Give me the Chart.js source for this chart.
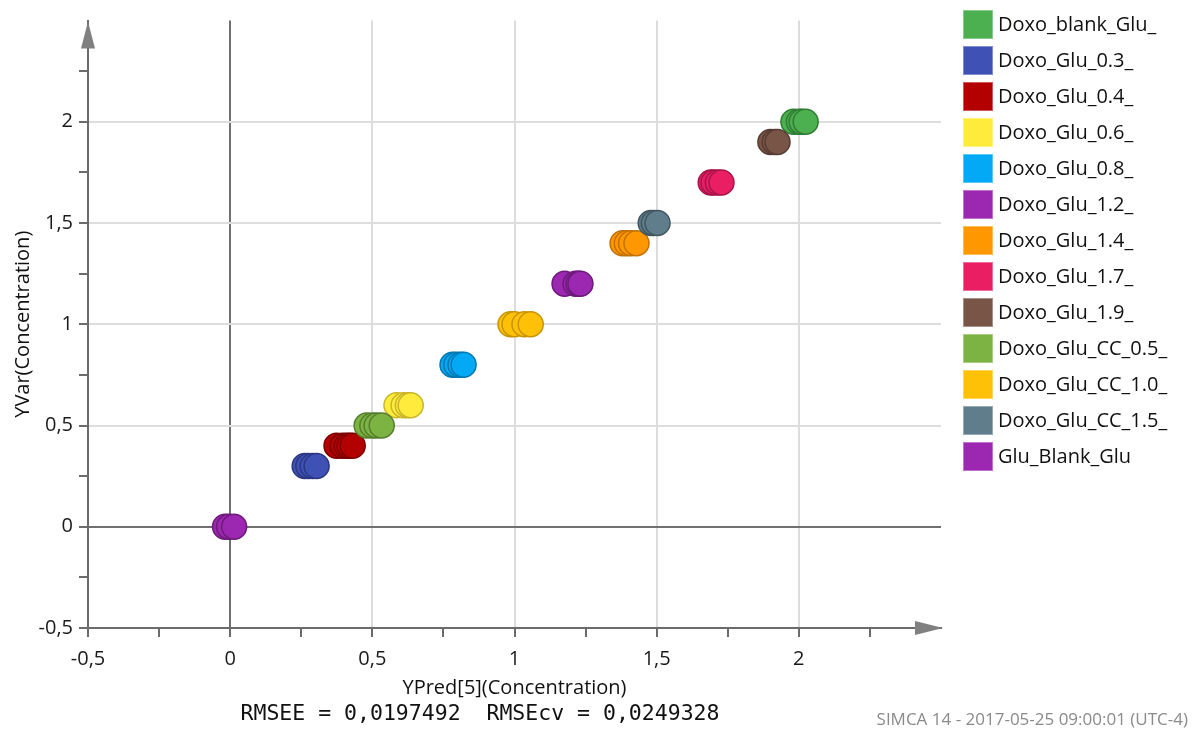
<!DOCTYPE html>
<html>
<head>
<meta charset="utf-8">
<script src="https://cdn.jsdelivr.net/npm/chart.js@4.4.0/dist/chart.umd.min.js"></script>
<style>
  html, body { margin: 0; padding: 0; background: #fff; }
  #wrap { width: 1194px; height: 738px; position: relative; }
</style>
</head>
<body>
<div id="wrap"><canvas id="chart" width="1194" height="738"></canvas></div>
<script>
// series names (legend order)
const seriesNames = [
  "Doxo_blank_Glu_", "Doxo_Glu_0.3_", "Doxo_Glu_0.4_", "Doxo_Glu_0.6_",
  "Doxo_Glu_0.8_", "Doxo_Glu_1.2_", "Doxo_Glu_1.4_", "Doxo_Glu_1.7_",
  "Doxo_Glu_1.9_", "Doxo_Glu_CC_0.5_", "Doxo_Glu_CC_1.0_", "Doxo_Glu_CC_1.5_",
  "Glu_Blank_Glu"
];
const seriesColors = [
  "#4caf50", "#3f51b5", "#b30000", "#ffeb3b",
  "#03a9f4", "#9c27b0", "#ff9800", "#e91e63",
  "#795548", "#7cb342", "#ffc107", "#607d8b",
  "#9c27b0"
];
const borderColors = [
  "#2f7d33", "#2b3782", "#7d0000", "#c9b52a",
  "#0277b0", "#6d1b7b", "#c27000", "#a8144a",
  "#553b32", "#567d2e", "#c79400", "#41565f",
  "#6d1b7b"
];
// observed concentration (YVar) per series
const yVar = [2.0, 0.3, 0.4, 0.6, 0.8, 1.2, 1.4, 1.7, 1.9, 0.5, 1.0, 1.5, 0];
// predicted concentration (YPred[5]) per series, one value per sample
const yPred = [
  [1.981, 2.0, 2.01, 2.024],
  [0.262, 0.275, 0.29, 0.304],
  [0.374, 0.395, 0.41, 0.42, 0.431],
  [0.585, 0.61, 0.625, 0.635],
  [0.782, 0.795, 0.81, 0.821],
  [1.176, 1.215, 1.225, 1.232],
  [1.38, 1.395, 1.41, 1.429],
  [1.69, 1.70, 1.715, 1.728],
  [1.90, 1.915, 1.925],
  [0.48, 0.50, 0.515, 0.533],
  [0.986, 1.0, 1.035, 1.057],
  [1.479, 1.49, 1.503],
  [-0.018, -0.004, 0.014]
];
// axis ticks
const tickValues = [-0.5, -0.25, 0, 0.25, 0.5, 0.75, 1, 1.25, 1.5, 1.75, 2, 2.25, 2.5];
const labelValues = [-0.5, 0, 0.5, 1, 1.5, 2];
const tickLabels = ["-0,5", "0", "0,5", "1", "1,5", "2"];
const footerText = "SIMCA 14 - 2017-05-25 09:00:01 (UTC-4)";
const statsText = "RMSEE = 0,0197492  RMSEcv = 0,0249328";

const FONT = "'Open Sans', 'Noto Sans', sans-serif";

function labelFor(v) {
  const i = labelValues.findIndex(l => Math.abs(l - v) < 1e-6);
  return i >= 0 ? tickLabels[i] : "";
}
function gridColor(ctx) {
  const v = ctx.tick ? ctx.tick.value : null;
  if (v === null) return "transparent";
  if (Math.abs(v) < 1e-6) return "#707070";
  if (v > 0 && v <= 2 && Math.abs(v * 2 - Math.round(v * 2)) < 1e-6) return "#dddddd";
  return "transparent";
}
function tickColor(ctx) {
  const v = ctx.tick ? ctx.tick.value : null;
  if (v === null || v > 2.3) return "transparent";
  return "#6b6b6b";
}

const datasets = seriesNames.map((name, i) => ({
  label: name,
  data: yPred[i].map(x => ({ x: x, y: yVar[i] })),
  backgroundColor: seriesColors[i],
  borderColor: borderColors[i],
  borderWidth: 1.5,
  pointRadius: 12.5,
  pointHoverRadius: 12.5,
  order: -i
}));

// arrows, legend and extra texts
const decorations = {
  id: "decorations",
  afterDraw(chart) {
    const c = chart.ctx;
    const xs = chart.scales.x, ys = chart.scales.y;
    const x0 = xs.left, y0 = ys.bottom;
    c.save();
    c.fillStyle = "#808080";
    c.beginPath();
    c.moveTo(xs.right + 2, y0);
    c.lineTo(xs.right - 26, y0 - 7);
    c.lineTo(xs.right - 26, y0 + 7);
    c.closePath();
    c.fill();
    c.beginPath();
    c.moveTo(x0, ys.top + 1);
    c.lineTo(x0 - 7, ys.top + 28);
    c.lineTo(x0 + 7, ys.top + 28);
    c.closePath();
    c.fill();

    // legend
    c.textBaseline = "middle";
    c.textAlign = "left";
    c.font = "20px " + FONT;
    chart.data.datasets.forEach((ds, i) => {
      const top = 10 + i * 36;
      c.fillStyle = ds.backgroundColor;
      c.fillRect(963, top, 30, 29);
      c.strokeStyle = "rgba(255,255,255,0.35)";
      c.lineWidth = 1;
      c.strokeRect(963.5, top + 0.5, 29, 28);
      c.fillStyle = "#111";
      c.fillText(ds.label, 998, top + 15);
    });

    // stats line
    c.font = "21.5px 'DejaVu Sans Mono', monospace";
    c.textAlign = "center";
    c.fillStyle = "#111";
    c.fillText(statsText, 480, 714);

    // footer
    c.font = "17px " + FONT;
    c.textAlign = "right";
    c.fillStyle = "#8a8a8a";
    c.fillText(footerText, 1188, 720);
    c.restore();
  }
};

new Chart(document.getElementById("chart"), {
  type: "scatter",
  data: { datasets: datasets },
  plugins: [decorations],
  options: {
    responsive: false,
    animation: false,
    devicePixelRatio: 1,
    layout: { padding: { left: 0, top: 20.5, right: 253, bottom: 0 } },
    plugins: { legend: { display: false }, tooltip: { enabled: false } },
    scales: {
      x: {
        type: "linear",
        min: -0.5,
        max: 2.5,
        afterBuildTicks: s => { s.ticks = tickValues.map(v => ({ value: v })); },
        afterFit: s => { s.height = 110; },
        ticks: {
          callback: v => labelFor(v),
          autoSkip: false,
          maxRotation: 0,
          padding: 10,
          color: "#1a1a1a",
          font: { family: FONT, size: 20 }
        },
        grid: { color: gridColor, lineWidth: 2, tickLength: 9, tickColor: tickColor, tickWidth: 2 },
        border: { color: "#6b6b6b", width: 2 },
        title: {
          display: true,
          text: "YPred[5](Concentration)",
          color: "#111",
          font: { family: FONT, size: 20 },
          padding: { top: 0, bottom: 38 }
        }
      },
      y: {
        type: "linear",
        min: -0.5,
        max: 2.5,
        afterBuildTicks: s => { s.ticks = tickValues.map(v => ({ value: v })); },
        afterFit: s => { s.width = 88; },
        ticks: {
          callback: v => labelFor(v),
          autoSkip: false,
          padding: 6,
          color: "#1a1a1a",
          font: { family: FONT, size: 20 }
        },
        grid: { color: gridColor, lineWidth: 2, tickLength: 9, tickColor: tickColor, tickWidth: 2 },
        border: { color: "#6b6b6b", width: 2 },
        title: {
          display: true,
          text: "YVar(Concentration)",
          color: "#111",
          font: { family: FONT, size: 20 },
          padding: { top: 11, bottom: 0 }
        }
      }
    }
  }
});
</script>
</body>
</html>
